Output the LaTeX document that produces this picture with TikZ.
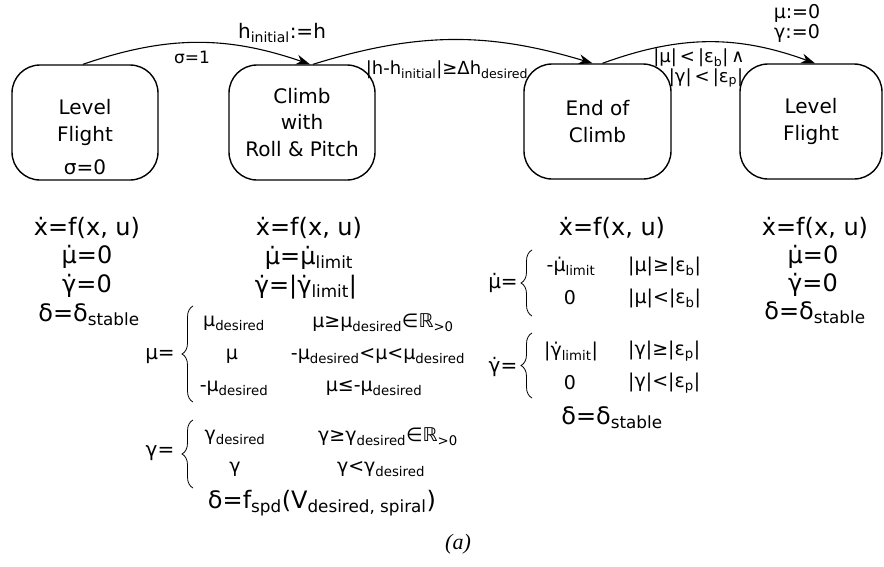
\documentclass[tikz,border=0pt]{standalone}
\usepackage{fontspec}
\setmainfont{DejaVu Sans}
\newfontfamily\capfont{Liberation Serif}
\usetikzlibrary{arrows.meta,decorations.pathreplacing}

% dotted symbols and subscripts
\newcommand\xdt{x^^^^0307}
\newcommand\mudt{μ^^^^0307}
\newcommand\gadt{γ^^^^0307}
\newcommand\sub[1]{\textsubscript{#1}}
\newcommand\fs[1]{\fontsize{#1}{#1}\selectfont}

\begin{document}
\begin{tikzpicture}[x=1pt,y=-1pt,
  state/.style={draw, line width=1.4pt, rounded corners=28pt,
    minimum width=146pt, minimum height=115pt, align=center,
    inner sep=0pt, font=\fontsize{20}{26.5}\selectfont},
  trans/.style={-{Stealth[length=14pt,width=10pt]}, line width=1.1pt},
  txt/.style={inner sep=0pt},
  eq/.style={inner sep=0pt, font=\fs{24}},
  lhs/.style={inner sep=0pt, font=\fs{20}},
  row/.style={inner sep=0pt, font=\fs{19}},
  brc/.style={decorate, decoration={brace, amplitude=11pt}, line width=0.8pt}
]
\useasboundingbox (0,0) rectangle (884,566);

% modes
\node[state] (lf1) at (85,122.5) {Level\\Flight};
\node[txt, font=\fs{20}] (sig0) at (85,167) {σ=0};
\node[state] (clb) at (302,122.5) {Climb\\with\\Roll \& Pitch};
\node[state, minimum width=147pt] (eoc) at (597.5,121.5) {End of\\Climb};
\node[state, minimum width=142pt] (lf2) at (811,121.5) {Level\\Flight};

% transitions
\draw[trans] ([xshift=-2pt]lf1.north) to[bend left=19] ([xshift=8pt]clb.north);
\draw[trans] ([xshift=11pt]clb.north) to[bend left=17] ([xshift=-5pt]eoc.north);
\draw[trans] ([xshift=5pt]eoc.north) to[bend left=20] ([xshift=4pt]lf2.north);

% transition labels
\node[txt, font=\fs{20}] (hinit) at (282,33) {h\sub{initial}:=h};
\node[txt, font=\fs{17}] (sig1) at (192,57) {σ=1};
\node[txt, font=\fs{18}] (hcond) at (447,70) {|h-h\sub{initial}|≥Δh\sub{desired}};
\node[txt, font=\fs{19}] (mu0) at (797,13) {μ:=0};
\node[txt, font=\fs{19}] (gam0) at (797,33) {γ:=0};
\node[txt, font=\fs{18}] (epsb) at (699,58) {|μ|\,<\,|ε\sub{b}|\,∧};
\node[txt, font=\fs{18}] (epsp) at (706,78) {|γ|\,<\,|ε\sub{p}|};

% dynamics: level flight
\node[eq] (a1) at (87,228) {\xdt=f(x, u)};
\node[eq] (a2) at (87,257) {\mudt=0};
\node[eq] (a3) at (87,286) {\gadt=0};
\node[eq] (a4) at (89,315) {δ=δ\sub{stable}};

% dynamics: climb
\node[eq] (b1) at (309,228) {\xdt=f(x, u)};
\node[eq] (b2) at (309,258) {\mudt=\mudt\sub{limit}};
\node[eq] (b3) at (306,287) {\gadt=|\gadt\sub{limit}|};
\node[lhs] (bmu) at (160,356) {μ=};
\draw[brc] (193,402) -- (193,306);
\node[row] (bm1) at (234,323) {μ\sub{desired}};
\node[row] (bm1c) at (383,323) {μ≥μ\sub{desired}∈ℝ\sub{>0}};
\node[row] (bm2) at (232,356) {μ};
\node[row] (bm2c) at (378,356) {-μ\sub{desired}<μ<μ\sub{desired}};
\node[row] (bm3) at (234,388) {-μ\sub{desired}};
\node[row] (bm3c) at (374,388) {μ≤-μ\sub{desired}};
\node[lhs] (bga) at (160,453) {γ=};
\draw[brc] (193,488) -- (193,420);
\node[row] (bg1) at (235,437) {γ\sub{desired}};
\node[row] (bg1c) at (388,437) {γ≥γ\sub{desired}∈ℝ\sub{>0}};
\node[row] (bg2) at (235,469) {γ};
\node[row] (bg2c) at (381,469) {γ<γ\sub{desired}};
\node[eq] (b4) at (322,503) {δ=f\sub{spd}(V\sub{desired, spiral})};

% dynamics: end of climb
\node[eq] (c1) at (612,228) {\xdt=f(x, u)};
\node[lhs] (cmu) at (503,283) {\mudt=};
\draw[brc] (532,316) -- (532,250);
\node[row] (cm1) at (571,266) {-\mudt\sub{limit}};
\node[row, anchor=west] (cm1c) at (628,266) {|μ|≥|ε\sub{b}|};
\node[row] (cm2) at (570,298) {0};
\node[row, anchor=west] (cm2c) at (628,298) {|μ|<|ε\sub{b}|};
\node[lhs] (cga) at (503,367) {\gadt=};
\draw[brc] (532,398) -- (532,333);
\node[row] (cg1) at (571,351) {|\gadt\sub{limit}|};
\node[row, anchor=west] (cg1c) at (628,351) {|γ|≥|ε\sub{p}|};
\node[row] (cg2) at (570,383) {0};
\node[row, anchor=west] (cg2c) at (628,383) {|γ|<|ε\sub{p}|};
\node[eq] (c4) at (612,418) {δ=δ\sub{stable}};

% dynamics: level flight after climb
\node[eq] (d1) at (815,228) {\xdt=f(x, u)};
\node[eq] (d2) at (813,257) {\mudt=0};
\node[eq] (d3) at (813,285) {\gadt=0};
\node[eq] (d4) at (815,313) {δ=δ\sub{stable}};

% caption
\node[txt, font=\capfont\itshape\fs{22}] (cap) at (458,544) {(a)};
\end{tikzpicture}
\end{document}
